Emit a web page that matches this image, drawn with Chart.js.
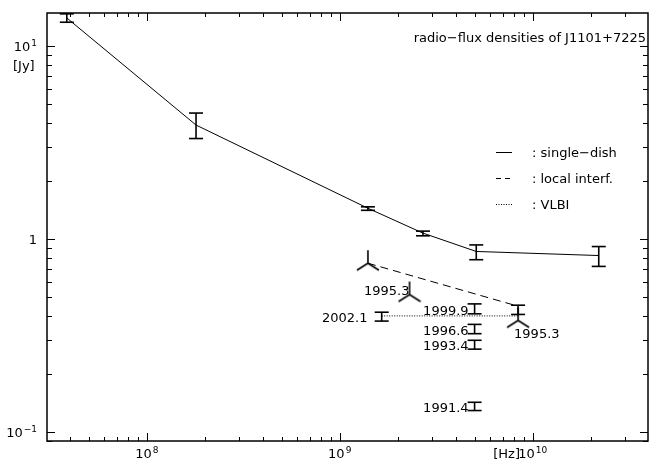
<!DOCTYPE html>
<html>
<head>
<meta charset="utf-8">
<script src="https://cdn.jsdelivr.net/npm/chart.js@4.4.0/dist/chart.umd.min.js"></script>
<style>
  html, body { margin: 0; padding: 0; background: #fff; }
</style>
</head>
<body>
<canvas id="myChart" width="661" height="464"></canvas>
<script>
// single-dish spectrum
const singleFreq = [3.85e7, 1.8e8, 1.4e9, 2.7e9, 5.1e9, 2.2e10];
const singleFlux = [14.0, 3.9, 1.445, 1.074, 0.863, 0.822];
const singleLow = [13.3, 3.32, 1.41, 1.04, 0.782, 0.722];
const singleHigh = [14.7, 4.5, 1.47, 1.10, 0.933, 0.915];

// local interferometer (dashed) and its labels
const localFreq = [1.4e9, 8.4e9];
const localFlux = [0.75, 0.449];
const localLabels = ["1995.3", "1995.3"];

// lambda-shaped markers
const markerFreq = [1.4e9, 2.3e9, 8.4e9];
const markerFlux = [0.75, 0.516, 0.379];

// VLBI (dotted)
const vlbiFreq = [1.65e9, 8.4e9];
const vlbiFlux = [0.40, 0.40];

// single epochs with error bars
const epochFreq = [1.65e9, 5.0e9, 5.0e9, 5.0e9, 5.0e9, 8.4e9];
const epochFlux = [0.397, 0.435, 0.342, 0.284, 0.136, 0.430];
const epochLow = [0.376, 0.410, 0.3235, 0.269, 0.1293, 0.407];
const epochHigh = [0.418, 0.4616, 0.3615, 0.299, 0.1427, 0.4545];
const epochLabels = ["2002.1  ", "1999.9", "1996.6", "1993.4", "1991.4", ""];

const xTicks = [1e8, 1e9, 1e10];
const xTickLabels = [["10", "8"], ["10", "9"], ["10", "10"]];
const yTicks = [0.1, 1, 10];
const yTickLabels = [["10", "\u22121"], ["1", ""], ["10", "1"]];
const xMin = 3.04e7, xMax = 3.96e10;
const yMin = 0.0899, yMax = 14.85;

const titleText = "radio\u2212flux densities of J1101+7225";
const legendLabels = [": single\u2212dish", ": local interf.", ": VLBI"];
const xAxisTitle = "[Hz]";
const yAxisTitle = "[Jy]";

const FONT = "'DejaVu Sans', sans-serif";

function toPoints(xs, ys) {
  return xs.map((x, i) => ({ x: x, y: ys[i] }));
}

function makeLambda() {
  const c = document.createElement("canvas");
  c.width = 24;
  c.height = 28;
  const g = c.getContext("2d");
  g.strokeStyle = "#000";
  g.lineWidth = 1.6;
  g.beginPath();
  g.moveTo(12, 1); g.lineTo(12, 14);
  g.moveTo(1, 21); g.lineTo(12, 14); g.lineTo(23, 21);
  g.stroke();
  return c;
}

function drawPower(ctx, base, exp, x, y, align) {
  ctx.font = "13px " + FONT;
  const wb = ctx.measureText(base).width;
  ctx.font = "9px " + FONT;
  const we = exp ? ctx.measureText(exp).width + 1 : 0;
  const w = wb + we;
  const left = align === "center" ? x - w / 2 : align === "right" ? x - w : x;
  ctx.textAlign = "left";
  ctx.textBaseline = "alphabetic";
  ctx.font = "13px " + FONT;
  ctx.fillText(base, left, y);
  if (exp) {
    ctx.font = "9px " + FONT;
    ctx.fillText(exp, left + wb + 1, y - 5.5);
  }
}

function line(ctx, x1, y1, x2, y2) {
  ctx.beginPath();
  ctx.moveTo(x1, y1);
  ctx.lineTo(x2, y2);
  ctx.stroke();
}

function drawErrorBars(ctx, xs, ys, fx, lo, hi) {
  fx.forEach((f, i) => {
    const px = xs.getPixelForValue(f);
    const top = ys.getPixelForValue(hi[i]);
    const bot = ys.getPixelForValue(lo[i]);
    line(ctx, px, top, px, bot);
    line(ctx, px - 7, top, px + 7, top);
    line(ctx, px - 7, bot, px + 7, bot);
  });
}

const framePlugin = {
  id: "frame",
  afterDraw(chart) {
    const ctx = chart.ctx, a = chart.chartArea;
    const xs = chart.scales.x, ys = chart.scales.y;
    ctx.save();
    ctx.strokeStyle = "#000";
    ctx.fillStyle = "#000";

    // minor and major ticks, pointing inwards
    ctx.lineWidth = 1;
    for (let d = 7; d <= 10; d++) {
      for (let m = 1; m <= 9; m++) {
        const v = m * Math.pow(10, d);
        if (v < xMin || v > xMax) continue;
        const px = Math.round(xs.getPixelForValue(v)) + 0.5;
        const len = m === 1 ? 8 : 4;
        line(ctx, px, a.bottom, px, a.bottom - len);
        line(ctx, px, a.top, px, a.top + len);
      }
    }
    for (let d = -2; d <= 1; d++) {
      for (let m = 1; m <= 9; m++) {
        const v = m * Math.pow(10, d);
        if (v < yMin || v > yMax) continue;
        const py = Math.round(ys.getPixelForValue(v)) + 0.5;
        const len = m === 1 ? 8 : 5;
        line(ctx, a.left, py, a.left + len, py);
        line(ctx, a.right, py, a.right - len, py);
      }
    }

    ctx.lineWidth = 1.5;
    ctx.strokeRect(a.left, a.top, a.right - a.left, a.bottom - a.top);

    // tick labels
    xTicks.forEach((v, i) => {
      drawPower(ctx, xTickLabels[i][0], xTickLabels[i][1], xs.getPixelForValue(v), a.bottom + 17, "center");
    });
    yTicks.forEach((v, i) => {
      drawPower(ctx, yTickLabels[i][0], yTickLabels[i][1], a.left - 10, ys.getPixelForValue(v) + 5, "right");
    });

    ctx.font = "13px " + FONT;
    ctx.textBaseline = "alphabetic";
    ctx.textAlign = "right";
    ctx.fillText(xAxisTitle, a.right - 128, a.bottom + 17);
    ctx.textAlign = "left";
    ctx.fillText(yAxisTitle, a.left - 34, a.top + 57);

    // title
    ctx.textAlign = "right";
    ctx.fillText(titleText, a.right - 2, a.top + 29);

    // legend
    const lx1 = a.right - 152, lx2 = a.right - 136;
    const rows = [a.top + 139, a.top + 165, a.top + 191];
    const dashes = [[], [5, 4], [1, 1.5]];
    rows.forEach((ry, i) => {
      ctx.lineWidth = 1;
      ctx.setLineDash(dashes[i]);
      line(ctx, lx1, ry + 0.5, lx2, ry + 0.5);
      ctx.setLineDash([]);
      ctx.textAlign = "left";
      ctx.fillText(legendLabels[i], a.right - 116, ry + 5);
    });

    // error bars
    ctx.lineWidth = 1.6;
    drawErrorBars(ctx, xs, ys, singleFreq, singleLow, singleHigh);
    drawErrorBars(ctx, xs, ys, epochFreq, epochLow, epochHigh);

    // epoch labels
    ctx.font = "13px " + FONT;
    ctx.textAlign = "right";
    epochFreq.forEach((f, i) => {
      if (!epochLabels[i]) return;
      ctx.fillText(epochLabels[i], xs.getPixelForValue(f) - 6, ys.getPixelForValue(epochLow[i]) + 1);
    });
    ctx.textAlign = "left";
    localFreq.forEach((f, i) => {
      ctx.fillText(localLabels[i], xs.getPixelForValue(f) - 4, ys.getPixelForValue(localFlux[i]) + 31.5);
    });
    ctx.restore();
  }
};

const lambdaImg = makeLambda();

const config = {
  type: "scatter",
  data: {
    datasets: [
      {
        data: toPoints(singleFreq, singleFlux),
        showLine: true,
        borderColor: "#000",
        borderWidth: 1,
        pointRadius: 0,
      },
      {
        data: toPoints(localFreq, localFlux),
        showLine: true,
        borderColor: "#000",
        borderWidth: 1,
        borderDash: [8, 5],
        pointRadius: 0,
      },
      {
        data: toPoints(vlbiFreq, vlbiFlux),
        showLine: true,
        borderColor: "#000",
        borderWidth: 1,
        borderDash: [1, 1.5],
        pointRadius: 0,
      },
      {
        data: toPoints(markerFreq, markerFlux),
        showLine: false,
        pointStyle: lambdaImg,
        pointRadius: 12,
      },
      {
        data: toPoints(epochFreq, epochFlux),
        showLine: false,
        pointRadius: 0,
      },
    ],
  },
  options: {
    responsive: false,
    animation: false,
    devicePixelRatio: 1,
    layout: { padding: { left: 47, right: 6, top: 10, bottom: 23 } },
    plugins: {
      legend: { display: false },
      tooltip: { enabled: false },
    },
    scales: {
      x: { type: "logarithmic", min: xMin, max: xMax, display: false },
      y: { type: "logarithmic", min: yMin, max: yMax, display: false },
    },
  },
  plugins: [framePlugin],
};

const myChart = new Chart(document.getElementById("myChart"), config);
</script>
</body>
</html>
